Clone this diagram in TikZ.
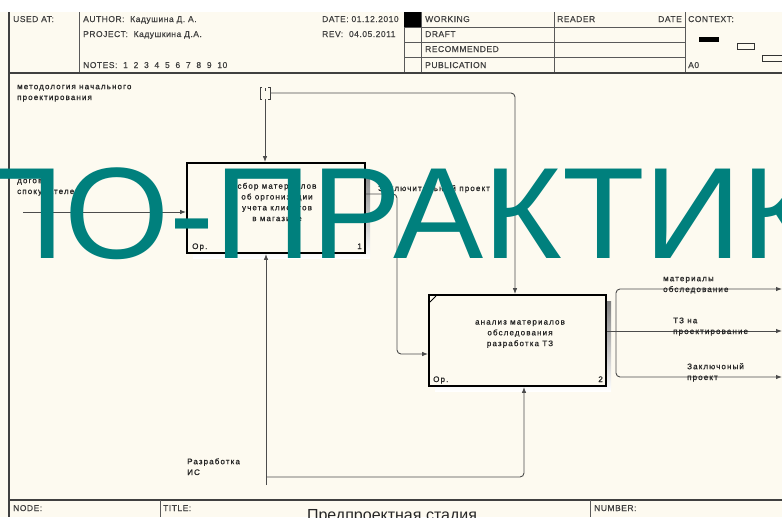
\documentclass[tikz,border=0pt]{standalone}
\usepackage{fontspec}
\setmainfont{Liberation Sans}
\newfontfamily\lblfont[LetterSpace=14,FakeBold=0.9]{Liberation Sans}
\newfontfamily\hdrfont[LetterSpace=6,FakeBold=0.4]{Liberation Sans}
\usetikzlibrary{arrows.meta}
\definecolor{paper}{RGB}{253,250,240}
\definecolor{wm}{RGB}{0,128,125}
\definecolor{shade}{RGB}{178,178,178}
\begin{document}
\begin{tikzpicture}[x=1pt,y=-1pt,
  hdr/.style={font=\hdrfont\fontsize{8.5}{10}\selectfont, inner sep=0pt, anchor=base west, text=black!75},
  lbl/.style={font=\lblfont\fontsize{8}{10.8}\selectfont, inner sep=0pt, anchor=base west, align=left, text=black!85},
  boxtxt/.style={font=\lblfont\fontsize{8}{10.8}\selectfont, inner sep=0pt, align=center, text=black!85},
  frameline/.style={line width=1.6pt, black!75},
  gridline/.style={line width=1pt, black!65},
  fbox/.style={draw=black, line width=1.8pt, fill=paper, inner sep=0pt},
  conn/.style={draw=black!70, line width=0.9pt, rounded corners=4pt},
  arr/.style={conn, -{Latex[length=6pt,width=4.5pt]}},
]
% background
\fill[paper] (0,0) rectangle (782,517);
\fill[white] (0,0) rectangle (782,12);
\useasboundingbox (0,0) rectangle (782,517);

% header frame
\draw[frameline] (9,12) -- (9,517);
\draw[gridline] (79,12) -- (79,73);
\draw[gridline] (404,12) -- (404,73);
\draw[gridline] (421,12) -- (421,73);
\draw[gridline] (554,12) -- (554,73);
\draw[gridline] (685,12) -- (685,73);
\draw[gridline] (404,27) -- (685,27);
\draw[gridline] (404,42) -- (685,42);
\draw[gridline] (404,57) -- (685,57);
\draw[frameline] (9,73) -- (782,73);

% header texts
\node[hdr] (usedat) at (13,22) {USED AT:};
\node[hdr] (author) at (83,22) {AUTHOR:\ \ Кадушина Д. А.};
\node[hdr] (project) at (83,37) {PROJECT:\ \ Кадушкина Д.А.};
\node[hdr] (notes) at (83,68) {NOTES:\ \ 1\ \ 2\ \ 3\ \ 4\ \ 5\ \ 6\ \ 7\ \ 8\ \ 9\ \ 10};
\node[hdr] (date) at (322,22) {DATE: 01.12.2010};
\node[hdr] (rev) at (322,37) {REV:\ \ 04.05.2011};
\fill[black] (404,12) rectangle (421,27);
\node[hdr] (working) at (425,22) {WORKING};
\node[hdr] (draft) at (425,37) {DRAFT};
\node[hdr] (recommended) at (425,52) {RECOMMENDED};
\node[hdr] (publication) at (425,68) {PUBLICATION};
\node[hdr] (reader) at (557,22) {READER};
\node[hdr, anchor=base east] (rdate) at (682,22) {DATE};
\node[hdr] (context) at (688,22) {CONTEXT:};
\node[hdr] (a0) at (688,68) {A0};
\fill[black] (699,37) rectangle (719,42);
\draw[line width=0.8pt, black!80] (737,43) rectangle (754,49);
\draw[line width=0.8pt, black!80] (762,55) rectangle (782,61);

% footer
\draw[frameline] (9,500) -- (782,500);
\draw[gridline] (160,500) -- (160,517);
\draw[gridline] (590,500) -- (590,517);
\node[hdr] (node) at (13,511) {NODE:};
\node[hdr] (title) at (163,511) {TITLE:};
\node[hdr] (number) at (594,511) {NUMBER:};
\node[font=\fontsize{16}{18}\selectfont, inner sep=0pt, anchor=base, text=black!85] (ttl) at (392,520) {Предпроектная стадия};

% shadows
\fill[shade] (193,169) rectangle (370,258);
\fill[shade] (435,301) rectangle (611,391);

% boxes
\node[fbox, minimum width=178pt, minimum height=90pt] (box1) at (276,208) {};
\node[fbox, minimum width=177pt, minimum height=91pt] (box2) at (517.5,340.5) {};
\draw[black, line width=0.8pt] (430,302) -- (436,296);

\node[boxtxt] (t1) at (277,202) {сбор материалов\\об оргонизации\\учета клиентов\\в магазине};
\node[lbl] (op1) at (192,249) {Ор.};
\node[lbl, anchor=base east] (n1) at (362,249) {1};
\node[boxtxt] (t2) at (520,334) {анализ материалов\\обследования\\разработка ТЗ};
\node[lbl] (op2) at (433,382) {Ор.};
\node[lbl, anchor=base east] (n2) at (603,382) {2};

% input
\coordinate (inS) at (23,212);
\draw[arr] (inS) -- (inS -| box1.west);
\node[lbl] (linp) at (17,194) {договор\\спокупателем};

% control with tunnel bracket
\coordinate (tun) at (265,93);
\draw[black!75, line width=0.8pt] (262,87) -- (260,87) -- (260,99) -- (262,99);
\draw[black!75, line width=0.8pt] (268,87) -- (270,87) -- (270,99) -- (268,99);
\draw[black!75, line width=0.8pt] (265,88) -- (265,91);
\coordinate (ctlA) at (265,99);
\draw[arr] (ctlA) -- (ctlA |- box1.north);
\coordinate (ctlB) at (270,93);
\coordinate (ctlC) at (515,93);
\draw[arr] (ctlB) -- (ctlC) -- (ctlC |- box2.north);
\node[lbl] (lctl) at (17,100) {методология начального\\проектирования};

% output box1 -> box2
\coordinate (o1a) at (397,194);
\coordinate (o1b) at (397,354);
\draw[arr] (box1.east |- o1a) -- (o1a) -- (o1b) -- (o1b -| box2.west);
\node[lbl] (lo1) at (378,191) {Заключительный проект};

% mechanism
\coordinate (mech) at (266,485);
\coordinate (mechJ) at (266,477);
\coordinate (mechC) at (524,477);
\draw[arr] (mech) -- (mech |- box1.south);
\draw[arr] (mechJ) -- (mechC) -- (mechC |- box2.south);
\node[lbl] (lmech) at (187,475) {Разработка\\ИС};

% outputs of box2
\coordinate (oj) at (616,331);
\coordinate (e1) at (782,289);
\coordinate (e2) at (782,331);
\coordinate (e3) at (782,377);
\draw[arr] (box2.east |- oj) -- (e2);
\draw[arr] (oj) -- (oj |- e1) -- (e1);
\draw[arr] (oj) -- (oj |- e3) -- (e3);
\node[lbl] (lo2) at (663,292) {материалы\\обследование};
\node[lbl] (lo3) at (673,334) {ТЗ на\\проектирование};
\node[lbl] (lo4) at (687,380) {Заключоный\\проект};

% watermark
\node[font=\fontsize{130}{130}\selectfont, text=wm, anchor=base west, inner sep=0pt, xscale=1.04] (wmark) at (-33,258) {ПО-ПРАКТИК};
\end{tikzpicture}
\end{document}
